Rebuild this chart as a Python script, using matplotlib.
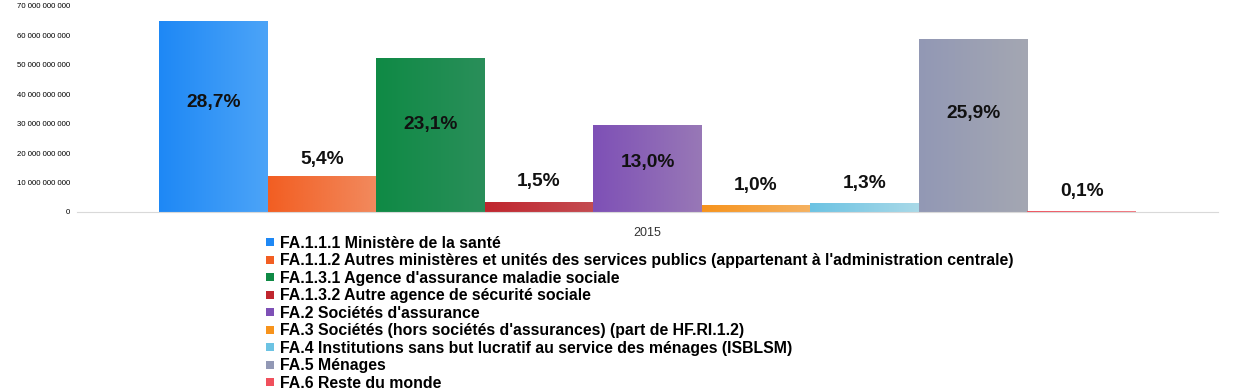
import matplotlib
matplotlib.use("Agg")
import matplotlib.pyplot as plt
import numpy as np
from matplotlib.colors import LinearSegmentedColormap
from matplotlib.lines import Line2D

plt.rcParams['font.family'] = ['Liberation Sans', 'DejaVu Sans']

categories = [
    "FA.1.1.1 Ministère de la santé",
    "FA.1.1.2 Autres ministères et unités des services publics (appartenant à l'administration centrale)",
    "FA.1.3.1 Agence d'assurance maladie sociale",
    "FA.1.3.2 Autre agence de sécurité sociale",
    "FA.2 Sociétés d'assurance",
    "FA.3 Sociétés (hors sociétés d'assurances) (part de HF.RI.1.2)",
    "FA.4 Institutions sans but lucratif au service des ménages (ISBLSM)",
    "FA.5 Ménages",
    "FA.6 Reste du monde",
]
values = [65.0e9, 12.2e9, 52.3e9, 3.4e9, 29.4e9, 2.3e9, 2.9e9, 58.7e9, 0.23e9]
pct_labels = ["28,7%", "5,4%", "23,1%", "1,5%", "13,0%", "1,0%", "1,3%", "25,9%", "0,1%"]
year = "2015"
yticks = [0, 10e9, 20e9, 30e9, 40e9, 50e9, 60e9, 70e9]

colors_left = ["#1e88f5", "#f25e22", "#0f8a45", "#c0262e", "#7e50b6", "#f7931c", "#6cc3e3", "#9298b5", "#f0505c"]
colors_right = ["#4ca4f8", "#f28a5e", "#2a8f5a", "#c44c52", "#9878b6", "#f5b262", "#a9d9e8", "#a4a7b2", "#f27a82"]

fig = plt.figure(figsize=(12.33, 3.9), dpi=100)
ax = fig.add_axes([77/1233, 1-212/390, (1218-77)/1233, (212-6)/390])

n = len(values)
group = 0.856
w = group / n
xs = -group/2 + w/2 + np.arange(n) * w
bars = ax.bar(xs, values, width=w, color=colors_left, linewidth=0, zorder=2)

grad = np.linspace(0, 1, 256).reshape(1, -1)
for b, cl, cr in zip(bars, colors_left, colors_right):
    cmap = LinearSegmentedColormap.from_list("g", [cl, cr])
    x0, y0 = b.get_x(), b.get_y()
    im = ax.imshow(grad, cmap=cmap, aspect='auto', extent=[x0, x0 + b.get_width(), y0, y0 + b.get_height()], zorder=3)
    im.set_clip_path(b)

ax.set_xlim(-0.5, 0.5)
ax.set_ylim(0, 70e9)

for b, v, lab in zip(bars, values, pct_labels):
    xc = b.get_x() + b.get_width()/2
    if v > 20e9:
        ax.text(xc, v*0.57, lab, ha='center', va='center', fontsize=13.8, fontweight='bold', color='#111111', zorder=5)
    else:
        off = 17 if v > 5e9 else 20
        ax.annotate(lab, (xc, v), xytext=(0, off), textcoords='offset pixels', ha='center', va='center',
                    fontsize=13.8, fontweight='bold', color='#111111', zorder=5)

ax.set_yticks(yticks)
ax.set_yticklabels([f"{int(t):,}".replace(",", " ") for t in yticks], fontsize=5.6)
ax.tick_params(axis='y', length=0, pad=5)
ax.set_xticks([0])
ax.set_xticklabels([year], fontsize=9, color='#333333')
ax.tick_params(axis='x', length=0, pad=11)
for s in ['top', 'right', 'left']:
    ax.spines[s].set_visible(False)
ax.spines['bottom'].set_color('#d9d9d9')
ax.spines['bottom'].set_zorder(4)

handles = [Line2D([], [], marker='s', linestyle='none', markersize=5.5, markerfacecolor=c, markeredgewidth=0) for c in colors_left]
fig.legend(handles, categories, loc='upper left', bbox_to_anchor=(265/1233, 1-236/390), frameon=False,
           prop={'size': 11.4, 'weight': 'bold'}, handlelength=0.6, handletextpad=0.35,
           labelspacing=0.155, borderpad=0, borderaxespad=0)

fig.savefig("out.png", dpi=100)
